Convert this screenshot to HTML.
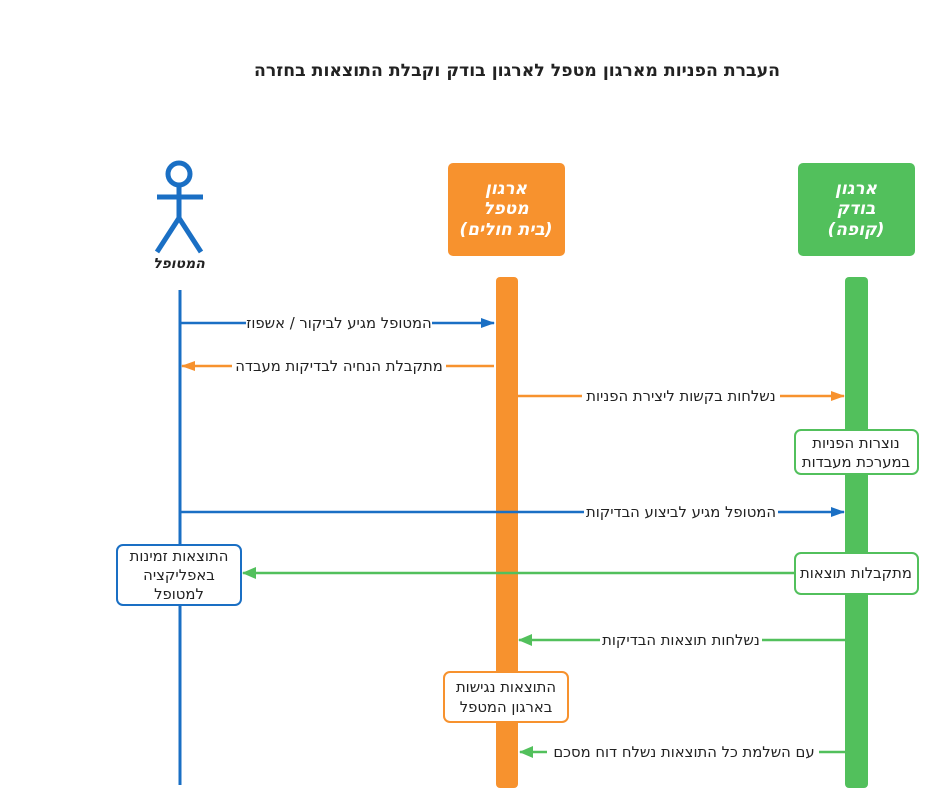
<!DOCTYPE html>
<html><head><meta charset="utf-8"><style>
body{margin:0;background:#fff;}
svg{display:block;font-family:"DejaVu Sans","Liberation Sans",sans-serif;}
.l{font-size:14.8px;fill:#222;text-anchor:middle;direction:rtl;}
.h{font-size:17px;fill:#fff;font-weight:bold;font-style:italic;text-anchor:middle;direction:rtl;}
</style></head><body>
<svg width="933" height="801" viewBox="0 0 933 801">
<defs>
<marker id="ab" markerWidth="14" markerHeight="10" refX="13" refY="5" orient="auto" markerUnits="userSpaceOnUse"><path d="M0,0 L14,5 L0,10 z" fill="#1a6fc4"/></marker>
<marker id="ao" markerWidth="14" markerHeight="10" refX="13" refY="5" orient="auto" markerUnits="userSpaceOnUse"><path d="M0,0 L14,5 L0,10 z" fill="#f7922e"/></marker>
<marker id="ag" markerWidth="14" markerHeight="12" refX="13" refY="6" orient="auto" markerUnits="userSpaceOnUse"><path d="M0,0 L14,6 L0,12 z" fill="#52c05c"/></marker>
</defs>
<text x="517" y="76" style="font-size:17.3px;font-weight:bold;fill:#222;text-anchor:middle;direction:rtl">העברת הפניות מארגון מטפל לארגון בודק וקבלת התוצאות בחזרה</text>

<g stroke="#1a6fc4" stroke-width="5" fill="none">
<circle cx="179" cy="174" r="11"/>
<line x1="179" y1="185" x2="179" y2="218"/>
<line x1="157" y1="197" x2="203" y2="197"/>
<line x1="179" y1="218" x2="157" y2="252"/>
<line x1="179" y1="218" x2="201" y2="252"/>
</g>
<text x="179" y="268" style="font-size:14px;font-weight:bold;font-style:italic;fill:#222;text-anchor:middle;direction:rtl">המטופל</text>

<rect x="448" y="163" width="117" height="93" rx="5" fill="#f7922e"/>
<text class="h" x="506" y="194">ארגון</text>
<text class="h" x="506" y="214">מטפל</text>
<text class="h" x="506" y="235">(בית חולים)</text>
<rect x="798" y="163" width="117" height="93" rx="5" fill="#52c05c"/>
<text class="h" x="856" y="194">ארגון</text>
<text class="h" x="856" y="214">בודק</text>
<text class="h" x="856" y="235">(קופה)</text>

<line x1="180" y1="290" x2="180" y2="785" stroke="#1a6fc4" stroke-width="3"/>
<rect x="496" y="277" width="22" height="511" rx="4" fill="#f7922e"/>
<rect x="845" y="277" width="23" height="511" rx="4" fill="#52c05c"/>

<line x1="180" y1="323" x2="494" y2="323" stroke="#1a6fc4" stroke-width="2.5" marker-end="url(#ab)"/>
<rect x="246" y="312" width="186" height="22" fill="#fff"/>
<text class="l" x="339" y="328">המטופל מגיע לביקור / אשפוז</text>

<line x1="494" y1="366" x2="182" y2="366" stroke="#f7922e" stroke-width="2.5" marker-end="url(#ao)"/>
<rect x="232" y="355" width="214" height="22" fill="#fff"/>
<text class="l" x="339" y="371">מתקבלת הנחיה לבדיקות מעבדה</text>

<line x1="518" y1="396" x2="844" y2="396" stroke="#f7922e" stroke-width="2.5" marker-end="url(#ao)"/>
<rect x="582" y="385" width="198" height="22" fill="#fff"/>
<text class="l" x="681" y="401">נשלחות בקשות ליצירת הפניות</text>

<rect x="795" y="430" width="123" height="44" rx="6" fill="#fff" stroke="#52c05c" stroke-width="2"/>
<text class="l" x="856" y="448">נוצרות הפניות</text>
<text class="l" x="856" y="467">במערכת מעבדות</text>

<line x1="180" y1="512" x2="844" y2="512" stroke="#1a6fc4" stroke-width="2.5" marker-end="url(#ab)"/>
<rect x="584" y="501" width="194" height="22" fill="#fff"/>
<text class="l" x="681" y="517">המטופל מגיע לביצוע הבדיקות</text>

<line x1="795" y1="573" x2="243" y2="573" stroke="#52c05c" stroke-width="2.5" marker-end="url(#ag)"/>
<rect x="117" y="545" width="124" height="60" rx="6" fill="#fff" stroke="#1a6fc4" stroke-width="2"/>
<text class="l" x="179" y="561">התוצאות זמינות</text>
<text class="l" x="179" y="580">באפליקציה</text>
<text class="l" x="179" y="599">למטופל</text>
<rect x="795" y="553" width="123" height="41" rx="6" fill="#fff" stroke="#52c05c" stroke-width="2"/>
<text class="l" x="856" y="578">מתקבלות תוצאות</text>

<line x1="845" y1="640" x2="519" y2="640" stroke="#52c05c" stroke-width="2.5" marker-end="url(#ag)"/>
<rect x="600" y="629" width="162" height="22" fill="#fff"/>
<text class="l" x="681" y="645">נשלחות תוצאות הבדיקות</text>

<rect x="444" y="672" width="124" height="50" rx="6" fill="#fff" stroke="#f7922e" stroke-width="2"/>
<text class="l" x="506" y="692">התוצאות נגישות</text>
<text class="l" x="506" y="712">בארגון המטפל</text>

<line x1="845" y1="752" x2="520" y2="752" stroke="#52c05c" stroke-width="2.5" marker-end="url(#ag)"/>
<rect x="547" y="741" width="272" height="22" fill="#fff"/>
<text class="l" x="684" y="757">עם השלמת כל התוצאות נשלח דוח מסכם</text>
</svg>
</body></html>
